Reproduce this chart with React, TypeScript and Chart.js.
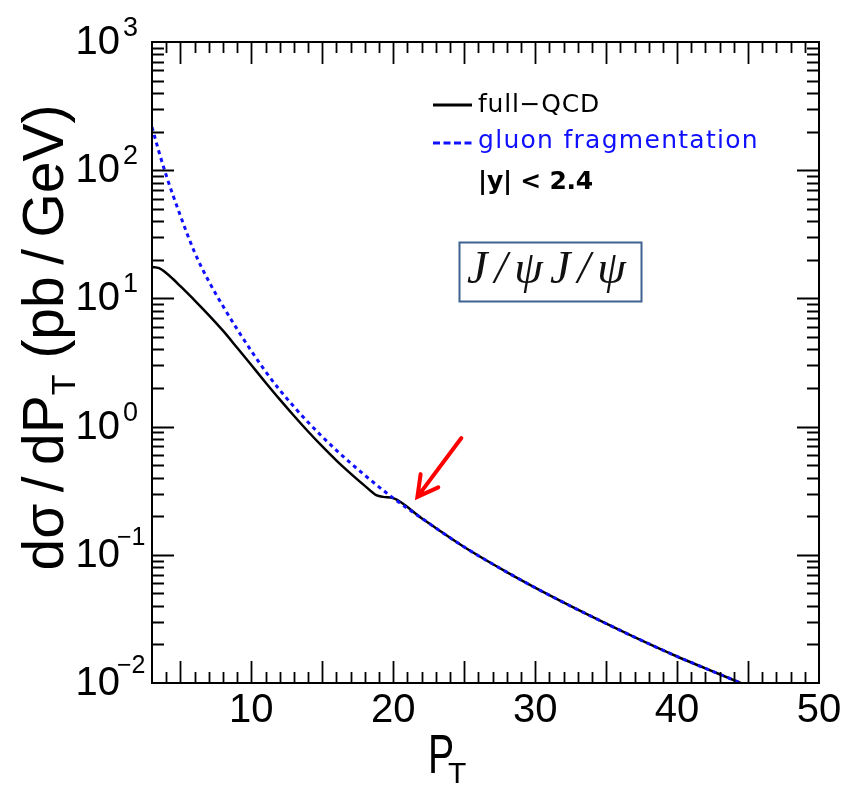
import React, { useEffect, useRef } from "react";
import { Chart, registerables } from "chart.js";

Chart.register(...registerables);

// ---- data ----
const ptFullQCD = [3, 3.5, 4, 4.5, 5, 6, 7, 8, 9, 10, 11, 12, 13, 14, 15, 16, 17, 18, 18.8, 19.3, 20, 22, 25, 28, 31, 34, 37, 40, 42, 44.3, 45];
const fullQCD = [17.6, 17.2, 15.8, 14.1, 12.45, 9.66, 7.41, 5.6, 4.12, 3.02, 2.21, 1.63, 1.216, 0.916, 0.7, 0.543, 0.43, 0.345, 0.292, 0.283, 0.277, 0.193, 0.115, 0.0733, 0.0484, 0.0329, 0.0228, 0.0161, 0.013, 0.0102, 0.00946];
const ptGluon = [3, 3.5, 4, 5, 6, 7, 8, 9, 10, 11, 12, 13, 14, 16, 18, 20, 22, 25, 28, 31, 34, 37, 40, 42, 44.3, 45];
const gluonFrag = [217, 138, 91.2, 44.2, 22.9, 13.6, 8.71, 5.75, 3.89, 2.69, 1.93, 1.43, 1.08, 0.653, 0.417, 0.277, 0.193, 0.115, 0.0733, 0.0484, 0.0329, 0.0228, 0.0161, 0.013, 0.0102, 0.00946];

const seriesLabels = ["full\u2212QCD", "gluon fragmentation"];
const cutLabel = "|y| < 2.4";
const boxLabel = "J/\u03c8J/\u03c8";

const xRange = [3, 50];
const yRange = [0.01, 1000];
const xTickLabels = [10, 20, 30, 40, 50];
const yTickExponents = [-2, -1, 0, 1, 2, 3];

// arrow annotation, in data coordinates: [tail, tip]
const arrowTail = { x: 24.8, y: 0.815 };
const arrowTip = { x: 21.7, y: 0.283 };

const SANS = "'Liberation Sans', Arial, sans-serif";

const decorPlugin = {
  id: "decor",
  afterDatasetsDraw(chart: any) {
    const { ctx, chartArea: a, scales } = chart;
    const x = scales.x;
    const y = scales.y;
    ctx.save();
    ctx.strokeStyle = "#000";
    ctx.lineWidth = 2;
    ctx.strokeRect(a.left, a.top, a.right - a.left, a.bottom - a.top);
    ctx.lineWidth = 1.8;
    ctx.beginPath();
    for (let v = xRange[0] + 1; v < xRange[1]; v++) {
      const px = Math.round(x.getPixelForValue(v)) + 0.5;
      const len = v % 5 === 0 ? 22 : 11;
      ctx.moveTo(px, a.bottom);
      ctx.lineTo(px, a.bottom - len);
      ctx.moveTo(px, a.top);
      ctx.lineTo(px, a.top + len);
    }
    for (let d = -2; d <= 2; d++) {
      for (let m = 1; m <= 9; m++) {
        if (d === -2 && m === 1) continue;
        const py = Math.round(y.getPixelForValue(m * Math.pow(10, d))) + 0.5;
        const len = m === 1 ? 22 : 12;
        ctx.moveTo(a.left, py);
        ctx.lineTo(a.left + len, py);
        ctx.moveTo(a.right, py);
        ctx.lineTo(a.right - len, py);
      }
    }
    ctx.stroke();

    // red arrow
    const tx = x.getPixelForValue(arrowTail.x);
    const ty = y.getPixelForValue(arrowTail.y);
    const hx = x.getPixelForValue(arrowTip.x);
    const hy = y.getPixelForValue(arrowTip.y);
    const ang = Math.atan2(hy - ty, hx - tx);
    ctx.strokeStyle = "#ff0000";
    ctx.lineWidth = 4;
    ctx.lineCap = "round";
    ctx.beginPath();
    ctx.moveTo(tx, ty);
    ctx.lineTo(hx, hy);
    const hl = 23;
    ctx.moveTo(hx - hl * Math.cos(ang - 0.5), hy - hl * Math.sin(ang - 0.5));
    ctx.lineTo(hx, hy);
    ctx.lineTo(hx - hl * Math.cos(ang + 0.5), hy - hl * Math.sin(ang + 0.5));
    ctx.stroke();
    ctx.restore();
  },
  afterDraw(chart: any) {
    const { ctx, chartArea: a, scales } = chart;
    const x = scales.x;
    const y = scales.y;
    ctx.save();
    ctx.fillStyle = "#000";

    // x tick labels
    ctx.font = `40px ${SANS}`;
    ctx.textAlign = "center";
    ctx.textBaseline = "alphabetic";
    xTickLabels.forEach((v) => {
      ctx.fillText(String(v), x.getPixelForValue(v), a.bottom + 39);
    });

    // y tick labels 10^n
    yTickExponents.forEach((e) => {
      const py = y.getPixelForValue(Math.pow(10, e));
      ctx.font = `40px ${SANS}`;
      ctx.textAlign = "right";
      ctx.fillText("10", a.left - 32, py + 12);
      ctx.textAlign = "left";
      if (e < 0) {
        ctx.font = `25px ${SANS}`;
        ctx.fillText("\u2212" + String(-e), a.left - 35, py - 10);
      } else {
        ctx.font = `27px ${SANS}`;
        ctx.fillText(String(e), a.left - 29, py - 6);
      }
    });

    // y axis title
    ctx.save();
    ctx.translate(a.left - 89, (a.top + a.bottom) / 2 - 25);
    ctx.rotate(-Math.PI / 2);
    const p1 = "d\u03c3\u2009/\u2009dP";
    const p2 = "T";
    const p3 = " (pb\u2009/\u2009GeV)";
    ctx.font = `57px ${SANS}`;
    const w1 = ctx.measureText(p1).width;
    const w3 = ctx.measureText(p3).width;
    ctx.font = `34px ${SANS}`;
    const w2 = ctx.measureText(p2).width;
    const start = -(w1 + w2 + w3) / 2;
    ctx.textAlign = "left";
    ctx.font = `57px ${SANS}`;
    ctx.fillText(p1, start, 0);
    ctx.font = `34px ${SANS}`;
    ctx.fillText(p2, start + w1, 12);
    ctx.font = `57px ${SANS}`;
    ctx.fillText(p3, start + w1 + w2, 0);
    ctx.restore();

    // x axis title P_T
    ctx.save();
    ctx.translate(a.left + 276, a.bottom + 90);
    ctx.scale(0.7, 1);
    ctx.font = `56px ${SANS}`;
    ctx.textAlign = "left";
    ctx.fillText("P", 0, 0);
    ctx.restore();
    ctx.font = `30px ${SANS}`;
    ctx.textAlign = "left";
    ctx.fillText("T", a.left + 296, a.bottom + 100);

    // legend
    const lx = a.left + 281;
    const fitText = (s: string, tx: number, ty: number, width: number) => {
      const n = [...s].length;
      ctx.letterSpacing = "0px";
      const w = ctx.measureText(s).width;
      ctx.letterSpacing = `${(width - w) / n}px`;
      ctx.fillText(s, tx, ty);
      ctx.letterSpacing = "0px";
    };
    ctx.textAlign = "left";
    ctx.font = `25px 'DejaVu Sans', sans-serif`;
    ctx.strokeStyle = "#000";
    ctx.lineWidth = 3;
    ctx.beginPath();
    ctx.moveTo(lx, 105);
    ctx.lineTo(lx + 39, 105);
    ctx.stroke();
    ctx.fillStyle = "#000";
    fitText(seriesLabels[0], lx + 45, 112, 122);

    ctx.strokeStyle = "#1010ff";
    ctx.setLineDash([7, 3.5]);
    ctx.beginPath();
    ctx.moveTo(lx, 143);
    ctx.lineTo(lx + 39, 143);
    ctx.stroke();
    ctx.setLineDash([]);
    ctx.fillStyle = "#1010ff";
    fitText(seriesLabels[1], lx + 45, 148, 281);

    ctx.fillStyle = "#000";
    ctx.font = `bold 25px 'DejaVu Sans', sans-serif`;
    fitText(cutLabel, lx + 45, 189, 115);

    // J/psi box
    ctx.strokeStyle = "#3f6290";
    ctx.lineWidth = 2;
    ctx.strokeRect(lx + 26.5, 242.5, 182, 59);
    ctx.fillStyle = "#111";
    ctx.font = `italic 46px 'Liberation Serif', 'DejaVu Serif', serif`;
    fitText(boxLabel, lx + 34, 283, 166);

    ctx.restore();
  },
};

export default function App() {
  const ref = useRef<HTMLCanvasElement | null>(null);
  useEffect(() => {
    if (!ref.current) return;
    const chart = new Chart(ref.current, {
      type: "line",
      data: {
        datasets: [
          {
            label: seriesLabels[1],
            data: ptGluon.map((p, i) => ({ x: p, y: gluonFrag[i] })),
            borderColor: "#1010ff",
            borderWidth: 3,
            borderDash: [4, 4],
            pointRadius: 0,
            cubicInterpolationMode: "monotone",
            fill: false,
          },
          {
            label: seriesLabels[0],
            data: ptFullQCD.map((p, i) => ({ x: p, y: fullQCD[i] })),
            borderColor: "#000000",
            borderWidth: 2.5,
            pointRadius: 0,
            cubicInterpolationMode: "monotone",
            fill: false,
          },
        ],
      },
      options: {
        responsive: false,
        animation: false,
        devicePixelRatio: 1,
        layout: { padding: { left: 152, top: 42, right: 27, bottom: 102 } },
        plugins: { legend: { display: false }, tooltip: { enabled: false } },
        scales: {
          x: { type: "linear", min: xRange[0], max: xRange[1], display: false },
          y: { type: "logarithmic", min: yRange[0], max: yRange[1], display: false },
        },
      },
      plugins: [decorPlugin],
    } as any);
    return () => chart.destroy();
  }, []);
  return (
    <div style={{ position: "absolute", left: 0, top: 0, width: 846, height: 785, background: "#fff" }}>
      <canvas ref={ref} width={846} height={785} style={{ display: "block" }} />
    </div>
  );
}
